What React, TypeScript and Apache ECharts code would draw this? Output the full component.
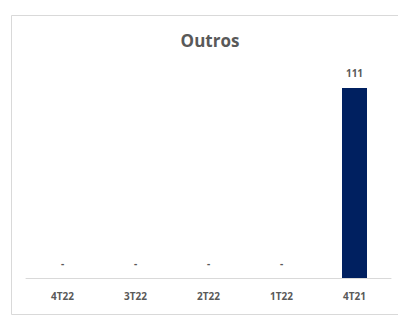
import React, { useEffect, useRef } from "react";
import * as echarts from "echarts";

const title = "Outros";
const categories = ["4T22", "3T22", "2T22", "1T22", "4T21"];
const values = [0, 0, 0, 0, 111];

export default function App() {
  const ref = useRef<HTMLDivElement>(null);
  useEffect(() => {
    if (!ref.current) return;
    const chart = echarts.init(ref.current, undefined, { renderer: "svg" });
    chart.setOption({
      animation: false,
      backgroundColor: "#ffffff",
      title: {
        text: title,
        left: 205,
        top: 27,
        textAlign: "center",
        textStyle: {
          fontFamily: "Open Sans",
          fontSize: 17,
          fontWeight: "bold",
          color: "#595959",
        },
      },
      graphic: [
        {
          type: "rect",
          shape: { x: 11.5, y: 15.5, width: 400, height: 299 },
          style: { fill: "none", stroke: "#d9d9d9", lineWidth: 1 },
          silent: true,
        },
      ],
      grid: { left: 26, right: 7, top: 88, bottom: 38 },
      xAxis: {
        type: "category",
        data: categories,
        axisLine: { lineStyle: { color: "#d9d9d9", width: 1 } },
        axisTick: { show: false },
        axisLabel: {
          color: "#595959",
          fontFamily: "Open Sans",
          fontSize: 10,
          fontWeight: "bold",
          margin: 13,
        },
      },
      yAxis: {
        type: "value",
        min: 0,
        max: 111,
        show: false,
        splitLine: { show: false },
      },
      series: [
        {
          type: "bar",
          data: values,
          barWidth: 25,
          itemStyle: { color: "#002060" },
          label: {
            show: true,
            position: "top",
            distance: 10,
            color: "#595959",
            fontFamily: "Open Sans",
            fontSize: 10,
            fontWeight: "bold",
            formatter: (p: any) => (p.value === 0 ? "-" : String(p.value)),
          },
        },
      ],
    });
    return () => chart.dispose();
  }, []);
  return (
    <div
      ref={ref}
      style={{ position: "fixed", left: 0, top: 0, width: 398, height: 316 }}
    />
  );
}
